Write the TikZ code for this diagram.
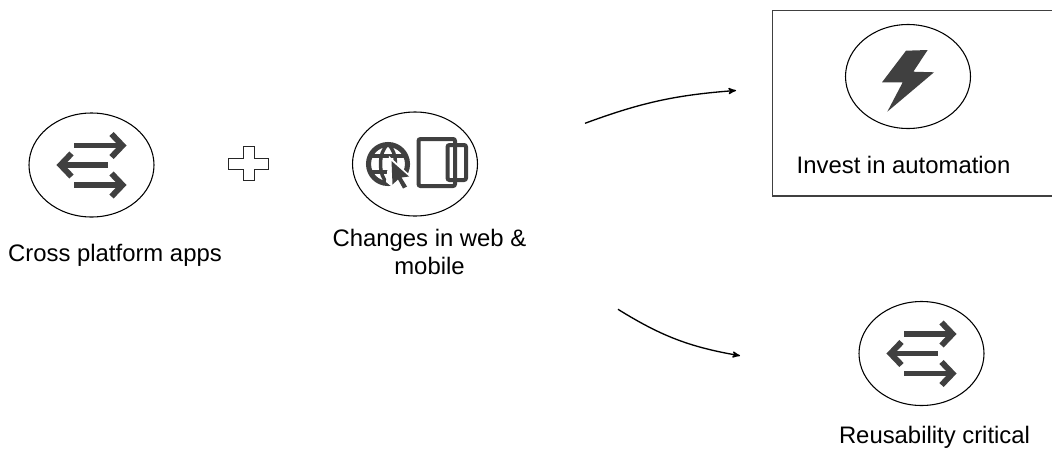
\documentclass[tikz,border=0pt]{standalone}
\usepackage{fontspec}
\setmainfont{Liberation Sans}
\usetikzlibrary{arrows}
\usetikzlibrary{shapes.geometric}
\definecolor{icongray}{HTML}{404040}
\tikzset{
    circlebox/.style={
           ellipse,
           draw=black, thick,
           minimum width=125*0.75pt,
           minimum height=104*0.75pt,
           inner sep=0pt,
           },
    caption/.style={
           font=\fontsize{17.9pt}{21pt}\selectfont,
           align=center,
           inner sep=0pt,
           },
    iconline/.style={
           draw=icongray,
           line width=4.4pt,
           },
    xarrows/.pic={
           \draw[iconline] (-17.5,-19.5) -- (31,-19.5);
           \draw[iconline] (20,-31) -- (31,-19.5) -- (20,-8);
           \draw[iconline] (16,0) -- (-31,0);
           \draw[iconline] (-20,-11.5) -- (-31,0) -- (-20,11.5);
           \draw[iconline] (-17.5,20) -- (31,20);
           \draw[iconline] (20,8.5) -- (31,20) -- (20,31.5);
           },
}
\begin{document}
\begin{tikzpicture}[x=0.75pt,y=-0.75pt,>=stealth']
 \useasboundingbox (0,0) rectangle (1052,450);

 % circles
 \node[circlebox] (CrossCircle) at (91.5,165) {};
 \node[circlebox] (WebCircle) at (415,164) {};
 \node[circlebox] (InvestCircle) at (908,76.5) {};
 \node[circlebox] (ReuseCircle) at (921.5,353.5) {};

 % captions
 \node[caption] (Cross) at (115,255) {Cross platform apps};
 \node[caption] (Web) at (429.5,252) {Changes in web \&\\mobile};
 \node[caption] (Invest) at (903.5,165) {Invest in automation};
 \node[caption] (Reuse) at (934.5,437) {Reusability critical};

 % box round the automation item, runs off the right side
 \draw[draw=black!75,line width=0.8pt] (1053,10.5) -- (772.5,10.5) -- (772.5,196) -- (1053,196);

 % plus sign
 \draw[draw=black!85,line width=0.7pt] (243,146.5) -- (254,146.5) -- (254,158) -- (268.5,158) -- (268.5,169)
   -- (254,169) -- (254,180) -- (243,180) -- (243,169) -- (228.5,169) -- (228.5,158) -- (243,158) -- cycle;

 % icons
 \pic at (91.5,165) {xarrows};
 \pic at (921.5,353.5) {xarrows};

 \fill[icongray] (906,50.7) -- (927.7,50) -- (913.3,71.7) -- (934,72.3) -- (887.3,111.7)
   -- (902.7,82.3) -- (882,82.3) -- cycle;

 % globe with cursor
 \draw[icongray,line width=3.8pt] (388,164) circle (19.5);
 \draw[icongray,line width=2.6pt] (388,144) .. controls (378,152) and (378,176) .. (388,184);
 \draw[icongray,line width=2.6pt] (388,144) .. controls (398,152) and (398,176) .. (388,184);
 \draw[icongray,line width=2.6pt] (370,156) -- (406,156);
 \draw[icongray,line width=2.6pt] (370,172) -- (406,172);
 \fill[white] (389,156) -- (412,177) -- (407,190) -- (396,190) -- (386,182) -- cycle;
 \fill[icongray] (391.5,161) -- (409,176.5) -- (401.5,177.5) -- (407,186.5) -- (403,188.5) -- (398,179.5) -- (392.5,184.5) -- cycle;

 % tablet and phone
 \draw[icongray,line width=3pt,rounded corners=1.5pt] (418.5,139) rectangle (455,186);
 \draw[icongray,line width=3pt,rounded corners=1.5pt] (447.5,145) rectangle (466,180);

 % start and end points of the curved arrows
 \coordinate (TopStart) at (585,123.3);
 \coordinate (TopEnd) at (736,90.5);
 \coordinate (LowStart) at (618,309.3);
 \coordinate (LowEnd) at (740,355.7);

 \draw[->,line width=1pt] (TopStart) to[bend left=8] (TopEnd);
 \draw[->,line width=1pt] (LowStart) to[bend right=11] (LowEnd);

\end{tikzpicture}
\end{document}
